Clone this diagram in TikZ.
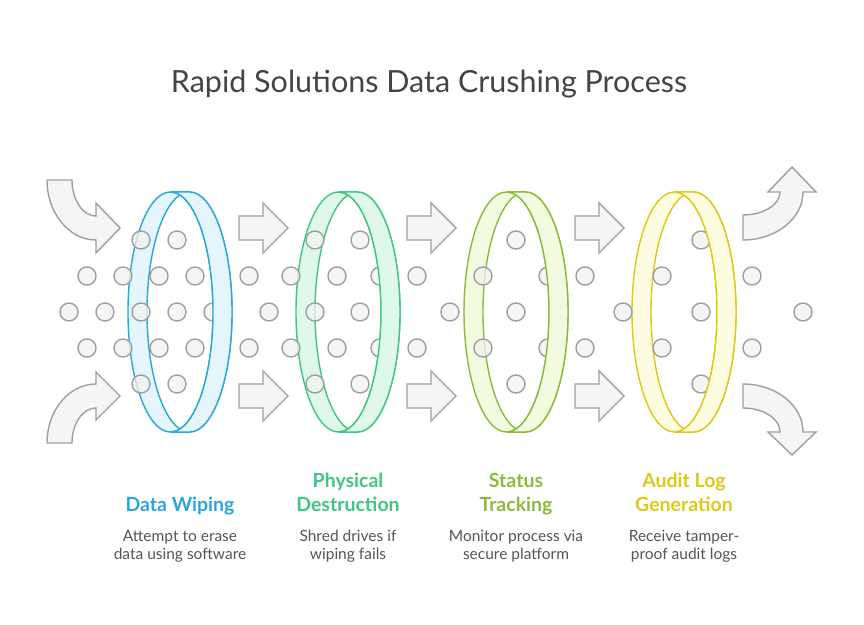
\documentclass[tikz,border=0pt]{standalone}
\usepackage{fontspec}
\setmainfont{Lato}
\usetikzlibrary{calc}
\definecolor{wipe}{HTML}{2AA6D9}
\definecolor{wipebg}{HTML}{E4F6FC}
\definecolor{shred}{HTML}{3EC682}
\definecolor{shredbg}{HTML}{E0F8EA}
\definecolor{track}{HTML}{8CBB3A}
\definecolor{trackbg}{HTML}{F2FBE0}
\definecolor{audit}{HTML}{DCCA16}
\definecolor{auditbg}{HTML}{FDFBE0}
\definecolor{titlegray}{HTML}{444444}
\definecolor{descgray}{HTML}{555555}
\tikzset{
    dot/.style={draw=gray!75,fill=gray!10,fill opacity=0.75,line width=1.4pt},
    blockarrow/.style={draw=gray!75,fill=gray!8,line width=1.4pt,line join=miter},
    ringline/.style={line width=1.4pt},
    steptitle/.style={font=\bfseries\fontsize{19.5}{24}\selectfont,align=center},
    stepdesc/.style={font=\fontsize{15.5}{18}\selectfont,text=descgray,align=center},
  }

\begin{document}
\begin{tikzpicture}[x=1pt,y=1pt]
          %fond et cadre
          \fill[white] (0,0) rectangle (864,624);
          \useasboundingbox (0,0) rectangle (864,624);
          \node[font=\fontsize{30.5}{36}\selectfont,text=titlegray](title) at (429,540) {Rapid Solutions Data Crushing Process};
          %anneaux : arriere
          \foreach \cx/\col/\bg in {180/wipe/wipebg,348/shred/shredbg,516/track/trackbg,684/audit/auditbg}{
            \fill[\bg] (\cx-9.5,432) arc[start angle=90,end angle=270,x radius=42.5,y radius=120]
                 -- (\cx+9.5,192) arc[start angle=-90,end angle=90,x radius=42.5,y radius=120] -- cycle;
            \begin{scope}
              \clip (\cx-9.5,312) ellipse[x radius=42.5,y radius=120];
              \fill[white] (\cx+9.5,312) ellipse[x radius=42.5,y radius=120];
            \end{scope}
            \draw[ringline,\col] (\cx-9.5,312) ellipse[x radius=42.5,y radius=120];
            \draw[ringline,\col] (\cx+9.5,312) ellipse[x radius=42.5,y radius=120];
            \draw[ringline,\col] (\cx-9.5,432) -- (\cx+9.5,432) (\cx-9.5,192) -- (\cx+9.5,192);
          }
          %points
          \foreach \x in {141,177,315,360,516,701}{
            \draw[dot] (\x,384) circle (9);
            \draw[dot] (\x,240) circle (9);
          }
          \foreach \x in {87,123,159,195,249,291,337,380,417,483,548,585,662,752}{
            \draw[dot] (\x,348) circle (9);
            \draw[dot] (\x,276) circle (9);
          }
          \foreach \x in {69,105,141,177,213,269,315,360,450,516,623,701,803}
            \draw[dot] (\x,312) circle (9);
          %anneaux : avant
          \foreach \cx/\col/\bg in {180/wipe/wipebg,348/shred/shredbg,516/track/trackbg,684/audit/auditbg}{
            \filldraw[ringline,draw=\col,fill=\bg] (\cx+9.5,432) arc[start angle=90,end angle=-90,x radius=42.5,y radius=120]
                 -- (\cx-9.5,192) arc[start angle=-90,end angle=90,x radius=42.5,y radius=120] -- cycle;
          }
          %fleches droites
          \foreach \x in {239,407,575}
            \foreach \y in {396,228}
              \draw[blockarrow] (\x,\y-12) -- (\x+24,\y-12) -- (\x+24,\y-25) -- (\x+49,\y)
                   -- (\x+24,\y+25) -- (\x+24,\y+12) -- (\x,\y+12) -- cycle;
          %fleches courbes
          \draw[blockarrow] (47,444) arc[start angle=180,end angle=270,x radius=49,y radius=60]
               -- (96,371) -- (120,396) -- (96,421) -- (96,408)
               arc[start angle=270,end angle=180,x radius=24,y radius=36] -- cycle;
          \draw[blockarrow] (47,181) arc[start angle=180,end angle=90,x radius=49,y radius=59]
               -- (96,252) -- (120,228) -- (96,204) -- (96,216)
               arc[start angle=90,end angle=180,x radius=24,y radius=35] -- cycle;
          \draw[blockarrow] (743,384) arc[start angle=-90,end angle=0,x radius=60,y radius=48]
               -- (816,432) -- (792,457) -- (768,432) -- (780,432)
               arc[start angle=0,end angle=-90,x radius=37,y radius=23] -- cycle;
          \draw[blockarrow] (743,240) arc[start angle=90,end angle=0,x radius=60,y radius=48]
               -- (816,192) -- (792,169) -- (768,192) -- (780,192)
               arc[start angle=0,end angle=90,x radius=37,y radius=24] -- cycle;
          %textes
          \node[steptitle,text=wipe,anchor=base](lab1) at (180,113) {Data Wiping};
          \node[steptitle,text=shred,anchor=base](lab2) at (348,113) {Physical\\Destruction};
          \node[steptitle,text=track,anchor=base](lab3) at (516,113) {Status\\Tracking};
          \node[steptitle,text=audit,anchor=base](lab4) at (684,113) {Audit Log\\Generation};
          \node[stepdesc,anchor=base](desc1) at (180,65) {Attempt to erase\\data using software};
          \node[stepdesc,anchor=base](desc2) at (348,65) {Shred drives if\\wiping fails};
          \node[stepdesc,anchor=base](desc3) at (516,65) {Monitor process via\\secure platform};
          \node[stepdesc,anchor=base](desc4) at (684,65) {Receive tamper-\\proof audit logs};
\end{tikzpicture}
\end{document}
